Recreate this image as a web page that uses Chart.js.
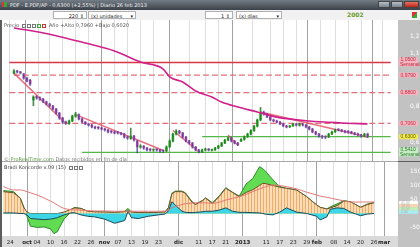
<!DOCTYPE html>
<html>
<head>
<meta charset="utf-8">
<script src="https://cdn.jsdelivr.net/npm/chart.js@4.4.1/dist/chart.umd.min.js"></script>
<style>
  html, body { margin: 0; padding: 0; }
  body { width: 420px; height: 247px; position: relative; overflow: hidden; background: #5c5c5c; font-family: "DejaVu Sans", sans-serif; }
  .abs { position: absolute; white-space: nowrap; pointer-events: none; }
  #titlebar { left: 0; top: 0; width: 420px; height: 10px; background: linear-gradient(#737c86, #3b4149); color: #f2f2f2; font-size: 5px; line-height: 10px; }
  #titlebar .ico { position: absolute; left: 2px; top: 2px; width: 5px; height: 5px; background: linear-gradient(90deg, #d33 50%, #3a3 50%); }
  #titlebar .txt { position: absolute; left: 10px; top: 0; }
  #titlebar .btn { position: absolute; top: 1px; height: 7px; width: 12px; background: linear-gradient(#b8c0c8, #7a848e); border: 1px solid #444; box-sizing: border-box; }
  #toolbar { left: 0; top: 10px; width: 420px; height: 10px; background: #f1f1f1; font-size: 5px; line-height: 8px; color: #222; }
  .box { position: absolute; top: 1px; height: 8px; background: #fff; border: 1px solid #b0b0b0; box-sizing: border-box; padding: 0 2px; }
  canvas { position: absolute; }
  #main { left: 2px; top: 20px; }
  #sep { left: 2px; top: 161px; width: 396px; height: 1px; background: #a8a8a8; }
  #ind { left: 2px; top: 162px; }
  .note { font-size: 5px; color: #555; }
  .ic { display: inline-block; width: 4px; height: 4px; border: 1px solid #777; margin-left: 1px; vertical-align: -1px; box-sizing: border-box; }
</style>
</head>
<body>
<div id="titlebar" class="abs">
  <span class="ico"></span>
  <span class="txt">PDF - E.PDF/AP - 0,6300 (+2,55%) | Diario 26 feb 2013</span>
  <span class="btn" style="left:378px"></span>
  <span class="btn" style="left:391px"></span>
  <span class="btn" style="left:404px;width:15px;background:linear-gradient(#e87060,#b82818)"></span>
</div>
<div id="toolbar" class="abs">
  <span class="box" style="left:53px;width:34px;text-align:right">220 ⇕</span>
  <span class="box" style="left:88px;width:48px">(x) unidades <span style="position:absolute;right:2px">▾</span></span>
  <span class="box" style="left:205px;width:28px;text-align:right">1 ⇕</span>
  <span class="box" style="left:236px;width:46px">(x) días <span style="position:absolute;right:2px">▾</span></span>
  <span class="abs" style="left:347px;top:0;color:#6a9a2a;font-weight:bold;font-size:6px;line-height:10px">2002</span>
  <span class="abs" style="left:412px;top:2px;width:5px;height:6px;background:linear-gradient(135deg,#d33 50%,#3a3 50%)"></span>
</div>
<canvas id="main" width="418" height="141"></canvas>
<div id="sep" class="abs"></div>
<canvas id="ind" width="418" height="85"></canvas>
<div class="abs note" style="left:4px;top:22px">Precio <span class="ic"></span><span class="ic"></span><span class="ic"></span><span class="ic" style="border-color:#3a3"></span><span class="ic" style="border-color:#c33"></span> &nbsp;Año +Alto 0,7960 +Bajo 0,6020</div>
<div class="abs note" style="left:4px;top:156px;color:#777">© <span style="color:#5a9a3a">ProRealTime.com</span> Datos recibidos en fin de día</div>
<div class="abs note" style="left:4px;top:164px;color:#444">Bradi Koncorde v.09 (15) <span class="ic"></span><span class="ic"></span><span class="ic"></span></div>

<script>
// x axis is counted in trading days: day 0 = 20 sep 2012, day 110 = 26 feb 2013
const tickDays = [2, 7, 10, 14, 18, 22, 26, 30, 34, 38, 42, 46, 52, 58, 62, 66, 71, 78, 82, 86, 90, 93, 98, 102, 106, 110, 113];
const tickText = ['24', 'oct', '04', '10', '16', '22', '26', 'nov', '07', '13', '19', '23', 'dic', '11', '17', '21', '2013', '11', '17', '23', '29', 'feb', '08', '14', '20', '26', 'mar'];
const monthText = ['oct', 'nov', 'dic', '2013', 'feb', 'mar'];

// daily candles, first one on day 1 (21 sep 2012)
const firstCandleDay = 1;
const opens = [0.990, 1.002, 0.996, 0.985, 0.962, 0.950, 0.838, 0.858, 0.850, 0.843, 0.827, 0.815, 0.804, 0.787, 0.764, 0.736, 0.713, 0.705, 0.719, 0.745,
  0.755, 0.730, 0.713, 0.702, 0.696, 0.685, 0.683, 0.679, 0.674, 0.668, 0.660, 0.657, 0.655, 0.651, 0.645, 0.628, 0.620, 0.634, 0.605, 0.572,
  0.577, 0.566, 0.558, 0.555, 0.557, 0.555, 0.551, 0.549, 0.572, 0.606, 0.645, 0.662, 0.651, 0.628, 0.606, 0.594, 0.572, 0.555, 0.544, 0.555,
  0.560, 0.553, 0.555, 0.566, 0.577, 0.594, 0.611, 0.623, 0.606, 0.594, 0.605, 0.615, 0.630, 0.645, 0.665, 0.690, 0.725, 0.768, 0.759, 0.742,
  0.725, 0.719, 0.713, 0.702, 0.691, 0.685, 0.691, 0.702, 0.694, 0.702, 0.696, 0.685, 0.674, 0.657, 0.645, 0.634, 0.630, 0.628, 0.645, 0.657,
  0.670, 0.668, 0.662, 0.659, 0.657, 0.651, 0.645, 0.640, 0.634, 0.645];
const highs = [1.010, 1.006, 1.000, 0.988, 0.968, 0.955, 0.862, 0.862, 0.856, 0.847, 0.832, 0.820, 0.808, 0.790, 0.768, 0.740, 0.718, 0.724, 0.752, 0.768,
  0.760, 0.735, 0.716, 0.706, 0.700, 0.690, 0.688, 0.684, 0.678, 0.672, 0.665, 0.662, 0.660, 0.655, 0.650, 0.633, 0.679, 0.638, 0.610, 0.585,
  0.580, 0.570, 0.563, 0.560, 0.562, 0.558, 0.556, 0.578, 0.612, 0.650, 0.670, 0.666, 0.655, 0.632, 0.610, 0.598, 0.575, 0.558, 0.560, 0.565,
  0.563, 0.560, 0.570, 0.582, 0.598, 0.615, 0.628, 0.627, 0.610, 0.598, 0.620, 0.635, 0.650, 0.670, 0.695, 0.730, 0.796, 0.775, 0.763, 0.746,
  0.730, 0.724, 0.717, 0.706, 0.695, 0.695, 0.706, 0.706, 0.707, 0.705, 0.700, 0.689, 0.678, 0.661, 0.649, 0.638, 0.635, 0.650, 0.662, 0.673,
  0.675, 0.672, 0.666, 0.663, 0.661, 0.655, 0.650, 0.644, 0.650, 0.650];
const lows = [0.985, 0.990, 0.985, 0.955, 0.940, 0.920, 0.805, 0.842, 0.836, 0.822, 0.810, 0.798, 0.782, 0.758, 0.728, 0.705, 0.700, 0.700, 0.715, 0.740,
  0.725, 0.708, 0.698, 0.690, 0.680, 0.674, 0.672, 0.668, 0.662, 0.652, 0.650, 0.646, 0.645, 0.640, 0.622, 0.615, 0.615, 0.605, 0.538, 0.565,
  0.558, 0.550, 0.548, 0.547, 0.548, 0.543, 0.541, 0.546, 0.570, 0.600, 0.640, 0.645, 0.622, 0.600, 0.588, 0.565, 0.550, 0.538, 0.541, 0.550,
  0.550, 0.549, 0.552, 0.562, 0.574, 0.590, 0.607, 0.600, 0.590, 0.580, 0.602, 0.610, 0.625, 0.640, 0.660, 0.685, 0.720, 0.752, 0.738, 0.720,
  0.714, 0.708, 0.698, 0.686, 0.680, 0.682, 0.688, 0.690, 0.690, 0.690, 0.680, 0.668, 0.652, 0.640, 0.628, 0.620, 0.618, 0.625, 0.642, 0.654,
  0.662, 0.657, 0.652, 0.650, 0.646, 0.640, 0.635, 0.628, 0.630, 0.625];
const closes = [1.002, 0.996, 0.991, 0.962, 0.945, 0.928, 0.855, 0.849, 0.843, 0.827, 0.815, 0.804, 0.787, 0.764, 0.736, 0.713, 0.708, 0.719, 0.747, 0.759,
  0.730, 0.713, 0.702, 0.696, 0.685, 0.679, 0.679, 0.674, 0.668, 0.657, 0.657, 0.651, 0.651, 0.645, 0.628, 0.623, 0.634, 0.611, 0.572, 0.577,
  0.566, 0.555, 0.555, 0.555, 0.555, 0.549, 0.549, 0.572, 0.606, 0.645, 0.662, 0.651, 0.628, 0.606, 0.594, 0.572, 0.555, 0.544, 0.555, 0.560,
  0.555, 0.555, 0.566, 0.577, 0.594, 0.611, 0.623, 0.606, 0.594, 0.585, 0.615, 0.630, 0.645, 0.665, 0.690, 0.725, 0.760, 0.759, 0.742, 0.725,
  0.719, 0.713, 0.702, 0.691, 0.685, 0.691, 0.702, 0.696, 0.702, 0.696, 0.685, 0.674, 0.657, 0.645, 0.634, 0.628, 0.628, 0.645, 0.657, 0.668,
  0.668, 0.662, 0.657, 0.657, 0.651, 0.645, 0.640, 0.634, 0.645, 0.630];

// long moving average (magenta)
const maDays = [1, 5, 13, 23, 32, 40, 47, 49, 53, 57, 62, 65, 70, 76, 82, 92, 102, 110];
const maVals = [1.245, 1.234, 1.206, 1.160, 1.115, 1.053, 1.013, 0.968, 0.940, 0.889, 0.855, 0.826, 0.798, 0.770, 0.741, 0.719, 0.708, 0.702];

// downtrend lines drawn over the candles
const trendDays = [[1, 17], [20, 47], [50, 58], [67, 70], [77, 110]];
const trendVals = [[0.990, 0.705], [0.755, 0.552], [0.665, 0.545], [0.640, 0.580], [0.770, 0.628]];

// horizontal levels with their tags on the price axis
const levelVals = [1.05, 0.979, 0.88, 0.706, 0.63, 0.541];
const levelText = ['1,0500', '0,9790', '0,8800', '0,7060', '0,6300', '0,5410'];
const levelNote = ['Semanal', '', '', '', '', 'Semanal'];
const levelFrom = [null, 1, null, null, 59, 22];
const priceTicks = [0.6, 0.8, 1.1, 1.2];

// Bradi Koncorde indicator
const kDays = [0, 3, 5, 6, 7, 8, 10, 12, 14, 15, 16, 18, 20, 21, 23, 25, 27, 30, 33, 36, 37, 38, 40, 43, 46, 48, 49, 50, 51, 53,
  54, 56, 57, 59, 60, 62, 64, 66, 68, 70, 72, 74, 76, 77, 78, 80, 82, 84, 87, 90, 93, 94, 96, 97, 99, 101, 103, 106, 108, 110];
const verde = [82, 78, 55, 25, -10, -45, -50, -48, -55, -72, -65, -20, 5, 22, 18, 8, 6, 5, 4, 8, 18, 5, 3, 3, 4, 5, 22, 72, 80, 80,
  74, 42, 34, 46, 56, 38, 62, 92, 76, 62, 105, 125, 167, 160, 148, 120, 96, 90, 84, 60, 30, 22, 16, 24, 34, 46, 42, 22, 34, 40];
const marron = [78, 74, 55, 22, 5, 0, 0, 0, 0, 0, 0, 5, 15, 20, 18, 8, 6, 5, 4, 6, 10, 5, 3, 3, 4, 5, 20, 70, 78, 78,
  72, 40, 32, 45, 55, 36, 60, 90, 75, 60, 75, 85, 100, 108, 106, 100, 94, 90, 84, 60, 30, 22, 16, 20, 28, 44, 42, 22, 32, 38];
const azul = [2, 2, 0, 0, -5, -18, -20, -22, -20, -18, -15, -5, 2, 3, -5, -10, -12, -20, -35, -25, 8, -15, -18, -10, -5, -2, 10, 42, 30, 8,
  4, 3, 4, 6, 8, 8, 12, 20, 8, 4, 4, 3, 2, 0, -3, -5, 5, 20, 5, 0, -10, -23, -12, 15, 20, 18, 5, -8, -2, 0];
const media = [96, 84, 84, 82, 78, 74, 66, 56, 44, 38, 30, 18, 14, 13, 12, 10, 9, 9, 8, 8, 8, 8, 8, 8, 8, 9, 12, 20, 25, 32,
  35, 37, 38, 38, 38, 36, 40, 48, 54, 60, 68, 78, 88, 92, 96, 102, 100, 96, 88, 76, 66, 62, 58, 55, 50, 45, 41, 41, 41, 41];
const kTicks = [-50, 50, 100, 150];
const kTagText = ['41,00', '38,00', '40,00', '0,00'];

const xMin = -0.42, xMax = 117.1;
const FONT = '"DejaVu Sans", sans-serif';

function labelFor ( v )
{
    const i = tickDays.indexOf( v );
    return i < 0 ? null : tickText[ i ];
}

function gridColor ( ctx )
{
    if ( !ctx.tick ) return '#dddddd';
    return monthText.includes( labelFor( ctx.tick.value ) ) ? '#a2a2a2' : '#dedede';
}

function zeroPad ( s )
{
    s.paddingTop = 0; s.paddingBottom = 0; s.paddingLeft = 0; s.paddingRight = 0;
}

function xScale ( showLabels )
{
    return {
        type: 'linear', min: xMin, max: xMax, bounds: 'data',
        border: { display: false },
        grid: { color: gridColor, drawTicks: false, lineWidth: 1 },
        ticks: {
            display: showLabels, autoSkip: false, maxRotation: 0, padding: 3.5, color: '#222',
            callback: v => labelFor( v ),
            font: ctx => ( { family: FONT, size: 5.5, weight: ctx.tick && monthText.includes( labelFor( ctx.tick.value ) ) ? 'bold' : 'normal' } )
        },
        afterBuildTicks: s => { s.ticks = tickDays.map( v => ( { value: v } ) ); },
        afterFit: s => { s.height = showLabels ? 11 : 0; zeroPad( s ); }
    };
}

function axisPanel ( bottomStrip )
{
    return {
        id: 'axisPanel',
        beforeDraw ( chart )
        {
            const { ctx, chartArea, width, height } = chart;
            ctx.save();
            ctx.fillStyle = '#ffffff';
            ctx.fillRect( 0, 0, chartArea.right, height );
            if ( bottomStrip )
            {
                ctx.fillStyle = '#dadada';
                ctx.fillRect( 0, chartArea.bottom, chartArea.right, height - chartArea.bottom );
            }
            ctx.fillStyle = '#c2c2c2';
            ctx.fillRect( chartArea.right, 0, width - chartArea.right, height );
            ctx.restore();
        }
    };
}

// ---------- price panel ----------
const candleBodies = closes.map( ( c, k ) => ( { x: firstCandleDay + k, y: [ opens[ k ], c ] } ) );
const candleWicks = closes.map( ( c, k ) => ( { x: firstCandleDay + k, y: [ lows[ k ], highs[ k ] ] } ) );
const isUp = ctx => ctx.raw && ctx.raw.y[ 1 ] >= ctx.raw.y[ 0 ];

const mainSets = [];
levelVals.forEach( ( v, i ) =>
{
    const green = i >= 4;
    mainSets.push( {
        type: 'line', order: 20,
        data: [ { x: levelFrom[ i ] === null ? xMin : levelFrom[ i ], y: v }, { x: xMax, y: v } ],
        borderColor: green ? '#55b84a' : ( i === 0 ? '#d8384a' : '#e2707c' ),
        borderWidth: i === 0 ? 1.5 : 1.2,
        borderDash: ( i === 0 || green ) ? [] : [ 6, 3 ],
        pointRadius: 0
    } );
} );
trendDays.forEach( ( d, i ) =>
{
    mainSets.push( {
        type: 'line', order: 15,
        data: [ { x: d[ 0 ], y: trendVals[ i ][ 0 ] }, { x: d[ 1 ], y: trendVals[ i ][ 1 ] } ],
        borderColor: 'rgba(226, 72, 96, 0.8)', borderWidth: 1.5, pointRadius: 0
    } );
} );
mainSets.push( {
    type: 'bar', order: 3, grouped: false, barThickness: 2, minBarLength: 1,
    data: candleBodies,
    backgroundColor: ctx => isUp( ctx ) ? '#44c444' : '#dc5aa0'
} );
mainSets.push( {
    type: 'bar', order: 2, grouped: false, barThickness: 1,
    data: candleWicks,
    backgroundColor: ctx =>
    {
        const k = ctx.dataIndex;
        return closes[ k ] >= opens[ k ] ? 'rgba(30,110,30,0.8)' : 'rgba(60,60,160,0.75)';
    }
} );
mainSets.push( {
    type: 'line', order: 1,
    data: maDays.map( ( d, i ) => ( { x: d, y: maVals[ i ] } ) ),
    borderColor: '#d0208c', borderWidth: 1.6, pointRadius: 0, cubicInterpolationMode: 'monotone'
} );

const levelTags = {
    id: 'levelTags',
    afterDraw ( chart )
    {
        const { ctx, chartArea, scales: { y } } = chart;
        const left = chartArea.right + 1;
        ctx.save();
        ctx.font = '5px "Liberation Sans", sans-serif';
        ctx.textBaseline = 'middle';
        levelVals.forEach( ( v, i ) =>
        {
            const py = y.getPixelForValue( v );
            const two = levelNote[ i ] !== '';
            const top = two ? py - 5 : py - 2.5;
            const h = two ? 9 : 5;
            let fill = '#f5b6c0', text = '#c2283c';
            if ( i === 4 ) { fill = '#f0ec50'; text = '#6a5a00'; }
            if ( i === 5 ) { fill = '#c6edc4'; text = '#2a7a2a'; }
            ctx.fillStyle = fill;
            ctx.fillRect( left, top, 19, h );
            ctx.fillStyle = text;
            ctx.fillText( levelText[ i ], left + 1.5, top + 2.6 );
            if ( two ) ctx.fillText( levelNote[ i ], left + 1, top + 6.8 );
        } );
        ctx.restore();
    }
};

new Chart( document.getElementById( 'main' ), {
    type: 'bar',
    data: { datasets: mainSets },
    options: {
        responsive: false, animation: false, devicePixelRatio: 1,
        layout: { padding: 0 },
        plugins: { legend: { display: false }, tooltip: { enabled: false } },
        scales: {
            x: xScale( false ),
            y: {
                position: 'right', min: 0.4926, max: 1.2905, bounds: 'data',
                border: { display: false },
                grid: { display: false },
                ticks: { padding: 4, color: '#ffffff', font: { family: FONT, size: 6 }, callback: v => v.toFixed( 1 ).replace( '.', ',' ) },
                afterBuildTicks: s => { s.ticks = priceTicks.map( v => ( { value: v } ) ); },
                afterFit: s => { s.width = 22; zeroPad( s ); }
            }
        }
    },
    plugins: [ axisPanel( false ), levelTags ]
} );

// ---------- indicator panel ----------
function stripes ()
{
    const c = document.createElement( 'canvas' );
    c.width = 3; c.height = 1;
    const g = c.getContext( '2d' );
    g.fillStyle = '#fbdcb8';
    g.fillRect( 0, 0, 3, 1 );
    g.fillStyle = '#f3aa62';
    g.fillRect( 0, 0, 1, 1 );
    return g.createPattern( c, 'repeat' );
}

const pts = vals => kDays.map( ( d, i ) => ( { x: d, y: vals[ i ] } ) );

const kTags = {
    id: 'kTags',
    afterDraw ( chart )
    {
        const { ctx, chartArea, scales: { y } } = chart;
        const left = chartArea.right + 1;
        const top0 = y.getPixelForValue( 0 ) - 12.5;
        const fills = [ '#ffffff', '#f9d6ae', '#bff0b8', '#a8ecf4' ];
        ctx.save();
        ctx.font = '3.5px "Liberation Sans", sans-serif';
        ctx.textBaseline = 'middle';
        fills.forEach( ( f, i ) =>
        {
            ctx.fillStyle = f;
            ctx.fillRect( left, top0 + i * 3.2, 19, 3.2 );
            ctx.fillStyle = '#b0b0b0';
            ctx.fillText( kTagText[ i ], left + 2, top0 + i * 3.2 + 1.7 );
        } );
        ctx.restore();
    }
};

new Chart( document.getElementById( 'ind' ), {
    type: 'line',
    data: {
        datasets: [
            { data: pts( verde ), order: 4, fill: 'origin', backgroundColor: '#62dc52', borderColor: '#2f8a2f', borderWidth: 1, pointRadius: 0 },
            { data: pts( marron ), order: 3, fill: 'origin', backgroundColor: stripes(), borderColor: '#6e5228', borderWidth: 1, pointRadius: 0 },
            { data: pts( azul ), order: 2, fill: 'origin', backgroundColor: '#3cd6e6', borderColor: '#1d4a5a', borderWidth: 1, pointRadius: 0 },
            { data: pts( media ), order: 1, fill: false, borderColor: '#e27878', borderWidth: 1, pointRadius: 0, cubicInterpolationMode: 'monotone' }
        ]
    },
    options: {
        responsive: false, animation: false, devicePixelRatio: 1,
        layout: { padding: 0 },
        plugins: { legend: { display: false }, tooltip: { enabled: false } },
        scales: {
            x: xScale( true ),
            y: {
                position: 'right', min: -80.4, max: 183.9, bounds: 'data',
                border: { display: false },
                grid: { display: false },
                ticks: { padding: 4, color: '#ffffff', font: { family: FONT, size: 6 }, callback: v => String( v ) },
                afterBuildTicks: s => { s.ticks = kTicks.map( v => ( { value: v } ) ); },
                afterFit: s => { s.width = 22; zeroPad( s ); }
            }
        }
    },
    plugins: [ axisPanel( true ), kTags ]
} );
</script>
</body>
</html>
